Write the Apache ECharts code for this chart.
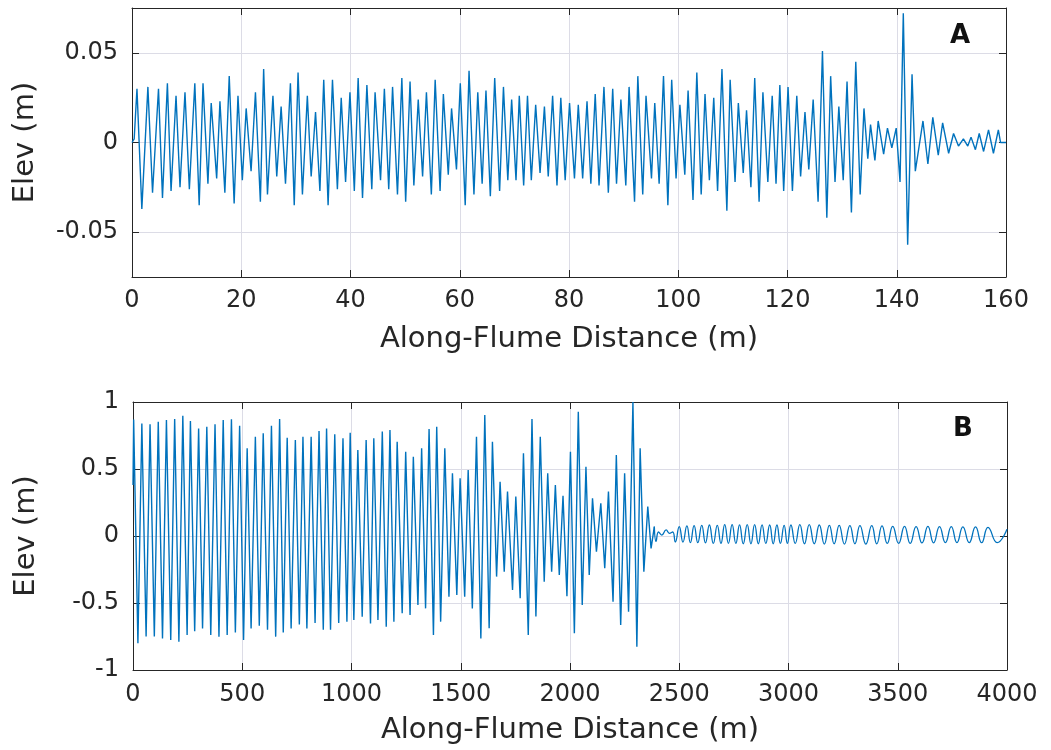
<!DOCTYPE html>
<html><head><meta charset="utf-8">
<script src="https://cdn.jsdelivr.net/npm/echarts@6/dist/echarts.min.js"></script>
<style>html,body{margin:0;padding:0;background:#fff}#c{width:1051px;height:750px}</style>
</head><body><div id="c"></div>
<script>
// ---------- data ----------
const xLabelA = 'Along-Flume Distance (m)';
const yLabel = 'Elev (m)';
const panelNames = ['A', 'B'];
const yTicksA = [-0.05, 0, 0.05];
const yTicksB = [-1, -0.5, 0, 0.5, 1];

// Panel A: [distance (m), elevation (m)] at turning points of the trace
const profileA = [
[0,0],[0.4,0.002],
[0.91,0.030],[1.8,-0.037],[2.91,0.031],[3.76,-0.028],[4.85,0.030],[5.58,-0.031],[6.48,0.033],[7.15,-0.027],
[8.06,0.026],[8.79,-0.025],[9.7,0.028],[10.5,-0.026],[11.5,0.033],[12.3,-0.035],[13.0,0.033],[13.9,-0.023],
[14.5,0.022],[15.5,-0.020],[16.1,0.023],[17.0,-0.028],[17.8,0.037],[18.7,-0.034],[19.4,0.026],[20.2,-0.021],
[20.9,0.019],[21.8,-0.016],[22.6,0.028],[23.5,-0.033],[24.1,0.041],[24.8,-0.029],[25.8,0.026],[26.5,-0.019],
[27.3,0.020],[28.1,-0.023],[29.0,0.033],[29.7,-0.035],[30.4,0.039],[31.2,-0.029],[32.1,0.026],[32.8,-0.019],
[33.6,0.017],[34.4,-0.027],[35.1,0.035],[35.9,-0.035],[36.7,0.035],[37.6,-0.026],[38.3,0.025],[39.1,-0.022],
[39.9,0.028],[40.7,-0.027],[41.4,0.036],[42.2,-0.031],[43.0,0.032],[43.9,-0.026],[44.5,0.028],[45.5,-0.021],
[46.2,0.030],[47.0,-0.026],[47.7,0.031],[48.6,-0.029],[49.4,0.036],[50.1,-0.033],[50.9,0.034],[51.6,-0.024],
[52.4,0.024],[53.2,-0.019],[53.9,0.028],[54.8,-0.029],[55.5,0.035],[56.4,-0.027],[57.0,0.027],[57.9,-0.018],
[58.5,0.019],[59.4,-0.015],[60.1,0.033],[61.0,-0.035],[61.7,0.040],[62.6,-0.029],[63.3,0.028],[64.1,-0.023],
[64.8,0.029],[65.6,-0.030],[66.4,0.036],[67.3,-0.027],[68.0,0.031],[68.8,-0.021],[69.5,0.024],[70.3,-0.021],
[70.9,0.026],[71.7,-0.024],[72.4,0.026],[73.1,-0.021],[73.9,0.021],[74.7,-0.017],[75.5,0.020],[76.2,-0.019],
[77.0,0.026],[77.8,-0.024],[78.5,0.025],[79.3,-0.021],
[80.1,0.022],[81.0,-0.020],[81.7,0.021],[82.5,-0.020],[83.3,0.023],[84.0,-0.023],[84.8,0.027],[85.5,-0.024],
[86.4,0.031],[87.2,-0.028],[88.0,0.030],[88.7,-0.023],[89.5,0.024],[90.4,-0.024],[91.0,0.031],[92.0,-0.033],
[92.6,0.037],[93.5,-0.029],[94.1,0.026],[95.1,-0.020],[95.7,0.022],[96.5,-0.023],[97.3,0.037],[98.1,-0.035],
[98.8,0.035],[99.6,-0.020],[100.3,0.021],[101.2,-0.018],[101.8,0.029],[102.7,-0.032],[103.4,0.039],[104.2,-0.029],
[104.9,0.027],[105.7,-0.021],[106.5,0.025],[107.2,-0.027],[108.0,0.041],[108.9,-0.038],[109.5,0.035],[110.4,-0.022],
[111.0,0.022],[111.9,-0.017],[112.5,0.018],[113.3,-0.025],[114.0,0.036],[114.8,-0.033],[115.5,0.028],[116.4,-0.022],
[117.2,0.026],[117.9,-0.023],
[118.6,0.032],[119.3,-0.027],[120.1,0.031],[120.9,-0.027],[121.7,0.026],[122.4,-0.019],[123.2,0.017],[123.9,-0.015],
[124.7,0.024],[125.6,-0.033],[126.4,0.051],[127.2,-0.042],[127.9,0.037],[128.7,-0.022],[129.4,0.020],[130.2,-0.021],
[130.9,0.034],[131.7,-0.039],[132.5,0.045],[133.3,-0.029],[134.0,0.019],[134.7,-0.009],[135.2,0.010],[136.0,-0.010],
[136.6,0.012],[137.6,-0.0065],[138.3,0.008],[139.1,-0.003],[139.9,0.008],[140.6,-0.022],[141.2,0.072],[142.0,-0.057],
[142.8,0.038],[143.4,-0.016],[144.8,0.012],[145.7,-0.012],[146.6,0.014],[147.6,-0.007],[148.4,0.011],[149.5,-0.006],
[150.4,0.005],[151.3,-0.002],[152.2,0.002],[153.0,-0.002],[153.6,0.003],[154.4,-0.004],[155.1,0.005],[155.9,-0.005],
[156.8,0.007],[157.7,-0.006],[158.6,0.007],[159.0,0],[160,0]
];

// Panel B, breaking part: [distance (m), elevation (m)]
const profileB = [
[0,0.38],[3,0.87],[22.5,-0.80],[40.5,0.84],[60,-0.75],[78,0.833],[97.6,-0.75],[115.6,0.853],[135,-0.764],
[153,0.866],[172.7,-0.776],[190.7,0.873],[210,-0.789],[228,0.898],[247.7,-0.739],[262.8,0.858],[282.3,-0.71],
[300.3,0.803],[318.3,-0.69],[337.8,0.816],[355.9,-0.739],[375.4,0.833],[393.4,-0.751],[412.9,0.866],[431,-0.739],
[450.5,0.871],[468.5,-0.72],[488,0.823],[506,-0.776],[522.5,0.654],[540.5,-0.69],[560,0.741],[578,-0.67],
[596,0.766],[615.6,-0.70],[633.6,0.823],[653,-0.751],[671,0.873],[687.7,-0.72],[705.7,0.734],[723.7,-0.69],
[743,0.716],[761.3,-0.66],[777.8,0.741],[795.8,-0.69],[815.3,0.741],[833.3,-0.65],[851.4,0.784],[870.9,-0.70],
[885.9,0.803],[904,-0.70],[923.4,0.759],[941.4,-0.65],[961,0.73],[979,-0.64],[994,0.77],[1010.7,-0.627],
[1029,0.642],[1049,-0.602],[1067,0.716],[1087,-0.652],[1102,0.729],[1121,-0.627],[1141,0.779],[1159,-0.677],
[1176,0.791],[1194,-0.639],[1209,0.704],[1232,-0.577],[1248,0.629],[1268,-0.590],[1283,0.592],[1304,-0.515],
[1321,0.654],[1339,-0.540],[1355,0.798],[1375,-0.739],[1390,0.816],[1408,-0.639],[1427,0.654],[1446,-0.453],
[1462,0.468],[1482,-0.440],[1497,0.430],[1518,-0.453],[1534,0.493],[1553,-0.540],[1572,0.741],[1592,-0.764],
[1610,0.903],[1630,-0.689],[1645,0.704],[1664,-0.303],[1680,0.405],[1699,-0.266],[1714,0.331],[1737,-0.403],
[1752,0.294],[1772,-0.465],[1787,0.617],[1809,-0.739],[1826,0.873],[1844,-0.60],[1864,0.741],[1882,-0.341],
[1898,0.468],[1916,-0.266],[1933,0.380],[1951,-0.291],[1968,0.30],[1986,-0.45],[2002,0.629],[2020,-0.726],
[2038,0.928],[2056,-0.515],[2073,0.517],[2088,-0.291],[2103,0.281],[2121,-0.117],[2141,0.244],[2159,-0.241],
[2176,0.331],[2197,-0.49],[2212,0.604],[2232,-0.664],[2250,0.468],[2268,-0.565],[2288,1.0],[2306,-0.826],
[2321,0.654],[2338,-0.266],[2356,0.219],[2371,-0.092],[2386,0.07]
];

// Panel B, non-breaking tail: [distance (m), elevation (m)]
const tailB = [
[2386,0.07],[2394,-0.04],[2405,0.03],[2420,0.007],[2440,0.045],[2455,0.02],[2470,0.03],[2482,-0.045],
[2500,0.07],[2517,-0.045],[2535,0.075],[2551,-0.05],[2568,0.078],[2585,-0.05],[2603,0.08],[2620,-0.052],
[2638,0.082],[2656,-0.055],[2674,0.08],[2691,-0.055],[2708,0.085],[2725,-0.055],[2742,0.085],[2759,-0.055],
[2776,0.083],[2793,-0.058],[2811,0.085],[2828,-0.058],[2845,0.085],[2862,-0.058],[2879,0.083],[2896,-0.055],
[2914,0.082],[2930,-0.058],[2947,0.082],[2963,-0.055],[2980,0.08],[2995,-0.055],[3011,0.082],[3031,-0.055],
[3052,0.085],[3073,-0.058],[3095,0.085],[3118,-0.058],[3141,0.082],[3164,-0.06],[3187,0.08],[3209,-0.058],
[3232,0.08],[3256,-0.06],[3281,0.078],[3304,-0.058],[3327,0.078],[3354,-0.06],[3381,0.078],[3404,-0.058],
[3428,0.075],[3452,-0.055],[3477,0.072],[3504,-0.055],[3531,0.072],[3557,-0.055],[3584,0.07],[3611,-0.052],
[3638,0.072],[3664,-0.052],[3691,0.07],[3718,-0.05],[3745,0.07],[3771,-0.05],[3798,0.068],[3827,-0.05],
[3856,0.068],[3884,-0.05],[3913,0.065],[3955,-0.05],[4000,0.05]
];

// ---------- styling ----------
const FONT = 'DejaVu Sans';
const INK = '#262626';
const GRIDC = '#dcdce6';
const LINE = '#0072BD';
const plainNum = v => String(v);

function xAxes(grid, max, interval, nameGap, labelMargin) {
  return [
    { gridIndex: grid, type: 'value', min: 0, max: max, interval: interval, position: 'bottom',
      axisLine: { show: true, onZero: false, lineStyle: { color: INK, width: 1 } },
      axisTick: { show: true, inside: true, length: 7, lineStyle: { color: INK } },
      axisLabel: { show: true, fontSize: 24, color: INK, margin: labelMargin, fontFamily: FONT, formatter: plainNum },
      splitLine: { show: true, lineStyle: { color: GRIDC, width: 1 } },
      name: xLabelA, nameLocation: 'middle', nameGap: nameGap,
      nameTextStyle: { fontSize: 29, color: INK, fontFamily: FONT } },
    { gridIndex: grid, type: 'value', min: 0, max: max, interval: interval, position: 'top',
      axisLine: { show: true, onZero: false, lineStyle: { color: INK, width: 1 } },
      axisTick: { show: true, inside: true, length: 7, lineStyle: { color: INK } },
      axisLabel: { show: false }, splitLine: { show: false } }
  ];
}
function yAxes(grid, min, max, ticks) {
  return [
    { gridIndex: grid, type: 'value', min: min, max: max, position: 'left',
      axisLine: { show: true, onZero: false, lineStyle: { color: INK, width: 1 } },
      axisTick: { show: true, inside: true, length: 7, lineStyle: { color: INK }, customValues: ticks },
      axisLabel: { show: true, fontSize: 24, color: INK, margin: 14, fontFamily: FONT, customValues: ticks, formatter: plainNum },
      splitLine: { show: true, lineStyle: { color: GRIDC, width: 1 } },
      name: yLabel, nameLocation: 'middle', nameGap: 92, nameRotate: 90,
      nameTextStyle: { fontSize: 29, color: INK, fontFamily: FONT } },
    { gridIndex: grid, type: 'value', min: min, max: max, position: 'right',
      axisLine: { show: true, onZero: false, lineStyle: { color: INK, width: 1 } },
      axisTick: { show: true, inside: true, length: 7, lineStyle: { color: INK }, customValues: ticks },
      axisLabel: { show: false, customValues: ticks }, splitLine: { show: false } }
  ];
}

const chart = echarts.init(document.getElementById('c'), null, { renderer: 'canvas' });
chart.setOption({
  animation: false,
  backgroundColor: '#ffffff',
  grid: [
    { left: 132, top: 8, width: 874, height: 269, outerBoundsMode: 'none' },
    { left: 133, top: 402, width: 874, height: 268, outerBoundsMode: 'none' }
  ],
  xAxis: [].concat(xAxes(0, 160, 20, 48, 12), xAxes(1, 4000, 500, 46, 13)),
  yAxis: [].concat(yAxes(0, -0.075, 0.075, yTicksA), yAxes(1, -1, 1, yTicksB)),
  graphic: [
    { type: 'text', left: 950, top: 23, z: 10,
      style: { text: panelNames[0], font: 'bold 26px "DejaVu Sans"', fill: '#111' } },
    { type: 'text', left: 953, top: 416, z: 10,
      style: { text: panelNames[1], font: 'bold 26px "DejaVu Sans"', fill: '#111' } }
  ],
  series: [
    { type: 'line', xAxisIndex: 0, yAxisIndex: 0, data: profileA, showSymbol: false, symbol: 'none',
      lineStyle: { color: LINE, width: 1.4 }, silent: true },
    { type: 'line', xAxisIndex: 2, yAxisIndex: 2, data: profileB, showSymbol: false, symbol: 'none',
      lineStyle: { color: LINE, width: 1.4 }, silent: true },
    { type: 'line', xAxisIndex: 2, yAxisIndex: 2, data: tailB, showSymbol: false, symbol: 'none',
      smooth: 0.5, lineStyle: { color: LINE, width: 1.3 }, silent: true }
  ]
});
</script>
</body></html>
